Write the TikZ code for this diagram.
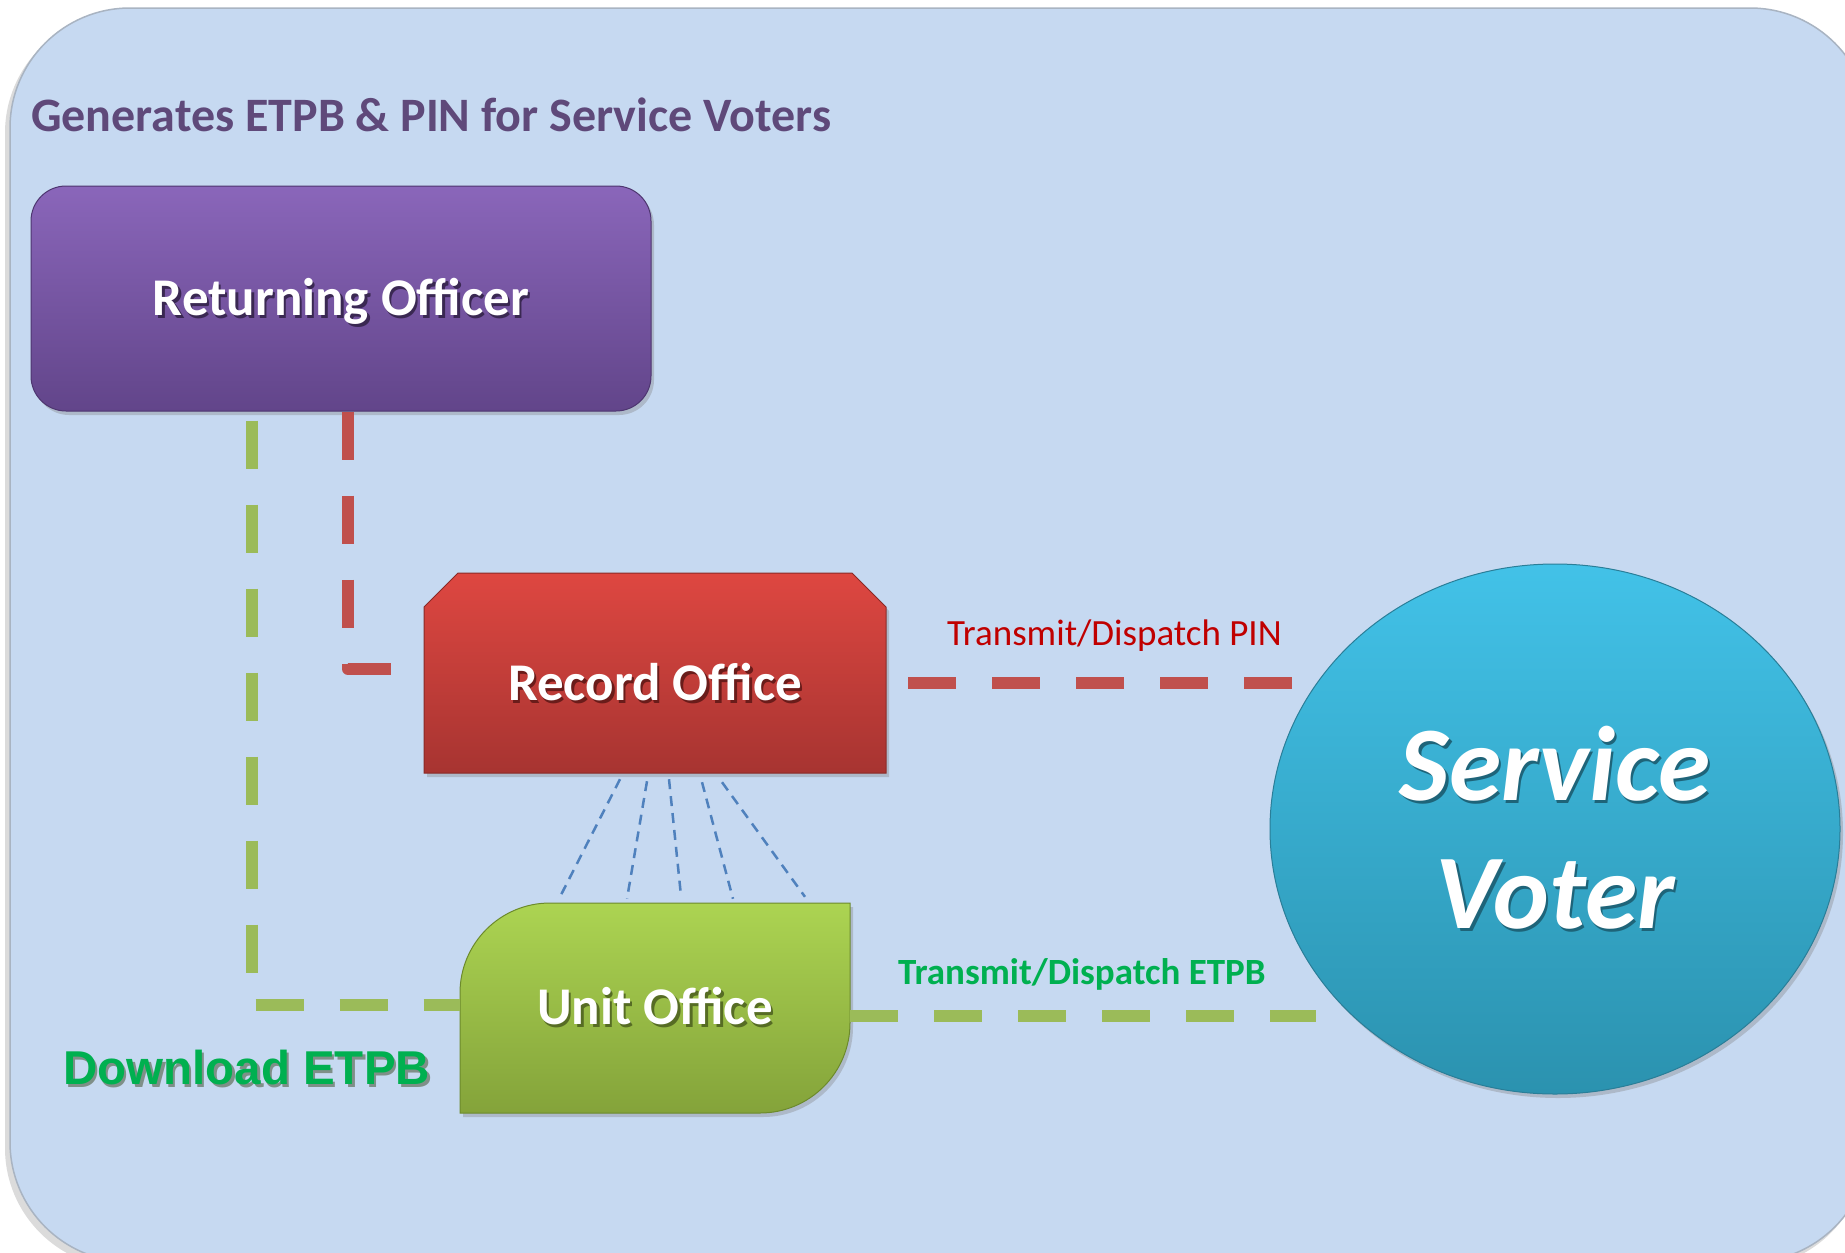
\documentclass[tikz,border=0pt]{standalone}
\usepackage{fontspec}
\setmainfont{Carlito}
\newfontfamily\arialfont{Liberation Sans}
\usetikzlibrary{shapes.geometric,shadows}

\definecolor{bgblue}{HTML}{C6D9F1}
\definecolor{bgedge}{HTML}{A9B4C2}
\definecolor{titlecol}{HTML}{5F497A}
\definecolor{roTop}{HTML}{8A66BA}
\definecolor{roBot}{HTML}{62458A}
\definecolor{roEdge}{HTML}{4E3670}
\definecolor{roShadow}{HTML}{3A2852}
\definecolor{recTop}{HTML}{DE4741}
\definecolor{recBot}{HTML}{A73431}
\definecolor{recEdge}{HTML}{8A2A27}
\definecolor{recShadow}{HTML}{6A1C1A}
\definecolor{uoTop}{HTML}{ACD452}
\definecolor{uoBot}{HTML}{84A33A}
\definecolor{uoEdge}{HTML}{6C8A2C}
\definecolor{uoShadow}{HTML}{566C24}
\definecolor{svTop}{HTML}{42C2E8}
\definecolor{svBot}{HTML}{2B92AF}
\definecolor{svEdge}{HTML}{2A7E98}
\definecolor{svShadow}{HTML}{1E6479}
\definecolor{lineRed}{HTML}{C0504D}
\definecolor{lineGreen}{HTML}{9BBB59}
\definecolor{fanBlue}{HTML}{4F81BD}
\definecolor{pinRed}{HTML}{C00000}
\definecolor{etpbGreen}{HTML}{00B050}
\definecolor{dlShadow}{HTML}{7F8F88}

\newcommand\shtext[2]{\leavevmode\rlap{\kern2.5pt\raisebox{-3pt}{\textcolor{#1}{#2}}}#2}

\begin{document}
\begin{tikzpicture}[x=1pt,y=-1pt,
  boxshadow/.style={drop shadow={shadow xshift=3pt,shadow yshift=-4pt,opacity=0.35}},
  boxtext/.style={text=white,inner sep=0pt,font=\fontsize{53pt}{60pt}\selectfont\bfseries},
  pinline/.style={draw=lineRed,line width=12pt,dash pattern=on 48pt off 36pt,line join=round},
  etpbline/.style={draw=lineGreen,line width=12pt,dash pattern=on 48pt off 36pt,line join=round},
  fanline/.style={draw=fanBlue,line width=2.5pt,dash pattern=on 10pt off 7pt},
  lbl/.style={inner sep=0pt,anchor=base west}]
\useasboundingbox (0,0) rectangle (1845,1253);
\clip (0,0) rectangle (1845,1253);
\fill[white] (0,0) rectangle (1845,1253);
% background panel
\fill[black!14,rounded corners=120pt] (5,13) rectangle (1866,1268);
\fill[bgblue,draw=bgedge,line width=1.5pt,rounded corners=120pt] (10,8) rectangle (1870,1262);

% title
\node[lbl,text=titlecol,font=\fontsize{48pt}{56pt}\selectfont\bfseries] (title) at (31,131) {Generates ETPB \& PIN for Service Voters};

% Returning Officer
\node[boxtext,boxshadow,rounded corners=35pt,top color=roTop,bottom color=roBot,draw=roEdge,line width=1pt,
      minimum width=620pt,minimum height=225pt,text height=33.5pt,text depth=0pt] (ro) at (341,298.5)
      {\shtext{roShadow}{Returning Officer}};

% Record Office
\path[boxshadow,top color=recTop,bottom color=recBot,draw=recEdge,line width=1pt]
  (424,773) -- (424,607) -- (458,573) -- (852,573) -- (886,607) -- (886,773) -- cycle;
\node[boxtext,minimum width=462pt,minimum height=200pt,text height=54.5pt,text depth=0pt] (rec) at (655,673)
      {\shtext{recShadow}{Record Office}};

% Unit Office
\path[boxshadow,top color=uoTop,bottom color=uoBot,draw=uoEdge,line width=1pt]
  (460,1113) -- (460,993) .. controls (460,943.3) and (500.3,903) .. (550,903) -- (850,903) -- (850,1023)
  .. controls (850,1072.7) and (809.7,1113) .. (760,1113) -- cycle;
\node[boxtext,minimum width=390pt,minimum height=210pt,text height=33.5pt,text depth=0pt] (uo) at (655,1008)
      {\shtext{uoShadow}{Unit Office}};

% Service Voter
\node[ellipse,boxshadow,top color=svTop,bottom color=svBot,draw=svEdge,line width=1pt,
      minimum width=570pt,minimum height=530pt,inner sep=0pt,text=white,align=center,
      font=\fontsize{106pt}{128pt}\selectfont\bfseries\itshape] (sv) at (1555,829)
      {\shtext{svShadow}{Service}\\\shtext{svShadow}{Voter}};

% labels
\node[lbl,text=pinRed,font=\fontsize{37pt}{44pt}\selectfont] (pinlab) at (947,645) {Transmit/Dispatch PIN};
\node[lbl,text=etpbGreen,font=\fontsize{37pt}{44pt}\selectfont\bfseries] (etpblab) at (898,984) {Transmit/Dispatch ETPB};
\node[lbl,text=etpbGreen,font=\arialfont\fontsize{47.5pt}{56pt}\selectfont\bfseries] (dl) at (63,1084)
      {\shtext{dlShadow}{Download ETPB}};

% connectors
\draw[pinline] ([shift={(7,0)}]ro.south) |- ([shift={(0,-4)}]rec.west);
\draw[etpbline] ([shift={(-89,9)}]ro.south) |- ([shift={(0,-3)}]uo.west);

\coordinate (pinA) at ([shift={(22,10)}]rec.east);
\coordinate (pinB) at ([shift={(22,0)}]pinA -| sv.west);
\draw[pinline] (pinA) -- (pinB);

\coordinate (etA) at ([shift={(0,8)}]uo.east);
\coordinate (etB) at ([shift={(46,0)}]etA -| sv.west);
\draw[etpbline] (etA) -- (etB);

\draw[fanline] ([shift={(-35,6)}]rec.south) -- ([shift={(-96,-4)}]uo.north);
\draw[fanline] ([shift={(-8,8)}]rec.south) -- ([shift={(-28,-4)}]uo.north);
\draw[fanline] ([shift={(14,6)}]rec.south) -- ([shift={(26,-7)}]uo.north);
\draw[fanline] ([shift={(47,9)}]rec.south) -- ([shift={(78,-4)}]uo.north);
\draw[fanline] ([shift={(67,9)}]rec.south) -- ([shift={(150,-6)}]uo.north);
\end{tikzpicture}
\end{document}
